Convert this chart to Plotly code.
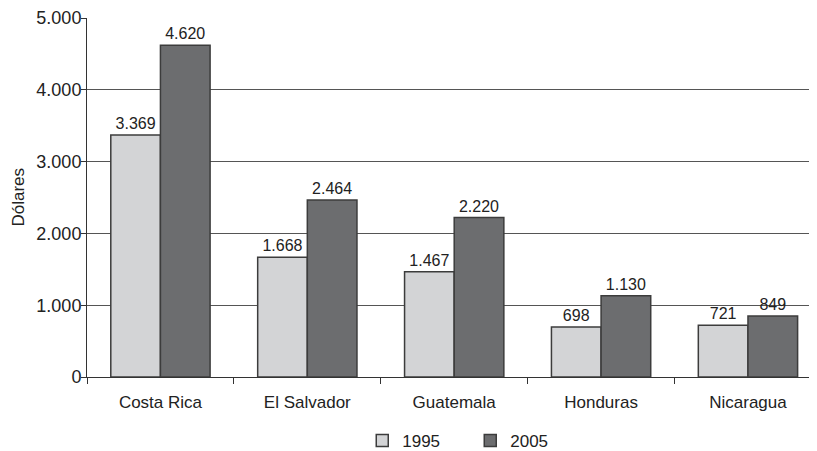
import plotly.graph_objects as go

categories = ["Costa Rica", "El Salvador", "Guatemala", "Honduras", "Nicaragua"]
values_1995 = [3369, 1668, 1467, 698, 721]
values_2005 = [4620, 2464, 2220, 1130, 849]
y_ticks = [0, 1000, 2000, 3000, 4000, 5000]

FONT = "Liberation Sans, Arial, sans-serif"
TXT = "#222222"
outline = dict(color="#3c3c3c", width=1.5)

# The page body has an 8px margin, so the figure is sized to end at the window edge.
W, H = 809, 443
L, T, B = 79, 10, 74

fig = go.Figure()
fig.add_trace(go.Bar(
    name="1995", x=categories, y=values_1995,
    marker=dict(color="#d3d4d6", line=outline),
    texttemplate="%{y:,d}", textposition="outside", cliponaxis=False,
    textfont=dict(size=16, color=TXT, family=FONT),
))
fig.add_trace(go.Bar(
    name="2005", x=categories, y=values_2005,
    marker=dict(color="#6c6d6f", line=outline),
    texttemplate="%{y:,d}", textposition="outside", cliponaxis=False,
    textfont=dict(size=16, color=TXT, family=FONT),
))

plot_w = W - L
plot_h = H - T - B

fig.update_layout(
    width=W, height=H,
    margin=dict(l=L, r=0, t=T, b=B, autoexpand=False),
    paper_bgcolor="white", plot_bgcolor="white",
    separators=",.",
    barmode="group", bargap=0.324, bargroupgap=0,
    font=dict(family=FONT, size=17, color=TXT),
    showlegend=True,
    legend=dict(orientation="h", x=0.525, xanchor="center", xref="paper",
                y=-64 / plot_h, yanchor="middle",
                font=dict(size=17, family=FONT, color=TXT),
                itemwidth=30, traceorder="normal", entrywidth=63,
                tracegroupgap=0),
    xaxis=dict(range=[-0.5, 4.47], showline=True, linecolor="#333333", linewidth=1,
               ticks="outside", tickson="boundaries", ticklen=6, tickcolor="#333333",
               showgrid=False, automargin=False, ticklabelstandoff=10,
               tickfont=dict(size=17, family=FONT, color=TXT)),
    yaxis=dict(range=[0, 5000], tickvals=y_ticks, tickformat=",d",
               showline=True, linecolor="#333333", linewidth=1,
               ticks="outside", ticklen=5, tickcolor="#333333",
               showgrid=True, gridcolor="#555555", gridwidth=1, zeroline=False,
               automargin=False, ticklabelstandoff=-4,
               tickfont=dict(size=18, family=FONT, color=TXT)),
    annotations=[dict(text="Dólares", x=-(L - 10) / plot_w, xref="paper", xanchor="center",
                      y=0.5, yref="paper", yanchor="middle", textangle=-90,
                      showarrow=False, font=dict(size=17, family=FONT, color=TXT))],
)

fig.write_html("out.html", config={"displayModeBar": False})
